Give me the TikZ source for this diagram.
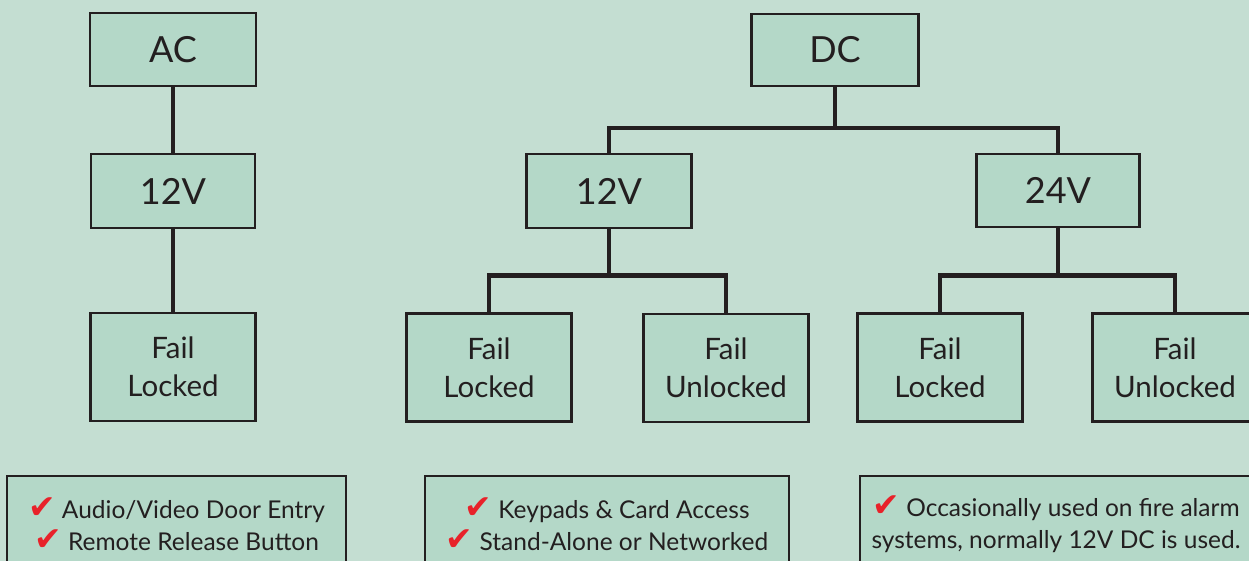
\documentclass[tikz,border=0pt]{standalone}
\usepackage{fontspec}
\setmainfont{Lato}
\newfontfamily\djv{DejaVu Sans}
\definecolor{bgc}{HTML}{C4DED2}
\definecolor{boxc}{HTML}{B4D8C8}
\definecolor{inkc}{HTML}{231F20}
\definecolor{tickc}{HTML}{E8222A}
\newcommand{\tick}{{\color{tickc}\djv\fontsize{33}{32}\selectfont\char"2714}}
\tikzset{
  box/.style={draw=inkc, fill=boxc, line width=2.5pt, text=inkc, inner sep=0pt, align=center},
  topbox/.style={box, font=\fontsize{36}{40}\selectfont},
  failbox/.style={box, minimum width=165pt, minimum height=108pt, font=\fontsize{29.5}{38}\selectfont},
  notebox/.style={draw=inkc, fill=boxc, line width=2.5pt, inner sep=0pt},
  notetext/.style={text=inkc, align=center, inner sep=0pt, font=\fontsize{24.5}{32}\selectfont},
  link/.style={draw=inkc, line width=4.5pt, line cap=rect}
}
\begin{document}
\begin{tikzpicture}[x=1pt, y=-1pt]
\useasboundingbox (0,0) rectangle (1249,561);
\clip (0,0) rectangle (1249,561);
\fill[bgc] (0,0) rectangle (1249,561);

% AC column
\node[topbox, minimum width=166pt, minimum height=73pt] (ac) at (173,49.5) {AC};
\node[topbox, minimum width=164pt, minimum height=74pt] (ac12) at (173,191) {12V};
\node[failbox] (acfl) at (173,367) {Fail\\Locked};

% DC tree
\node[topbox, minimum width=167pt, minimum height=72pt] (dc) at (835,50) {DC};
\node[topbox, minimum width=165pt, minimum height=74pt] (dc12) at (609,191) {12V};
\node[topbox, minimum width=163pt, minimum height=73pt] (dc24) at (1058,190.5) {24V};
\node[failbox] (fl1) at (489,367.5) {Fail\\Locked};
\node[failbox] (fu1) at (726,368) {Fail\\Unlocked};
\node[failbox] (fl2) at (940,367.5) {Fail\\Locked};
\node[failbox] (fu2) at (1175,367.5) {Fail\\Unlocked};

% connectors
\draw[link] (ac.south) -- (ac12.north);
\draw[link] (ac12.south) -- (acfl.north);
\draw[link] (dc.south) -- ++(0,41) -| (dc12.north);
\draw[link] (dc.south) -- ++(0,41) -| (dc24.north);
\draw[link] (dc12.south) -- ++(0,46) -| (fl1.north);
\draw[link] (dc12.south) -- ++(0,46) -| (fu1.north);
\draw[link] (dc24.south) -- ++(0,47) -| (fl2.north);
\draw[link] (dc24.south) -- ++(0,47) -| (fu2.north);

% notes
\node[notebox, minimum width=339pt, minimum height=130pt] (n1) at (176.5,541) {};
\node[notebox, minimum width=364pt, minimum height=130pt] (n2) at (607,541) {};
\node[notebox, minimum width=400pt, minimum height=130pt] (n3) at (1060,541) {};
\node[notetext] (t1) at (176.5,524) {\tick\ Audio/Video Door Entry\\\tick\ Remote Release Button};
\node[notetext] (t2) at (607,524) {\tick\ Keypads \& Card Access\\\tick\ Stand-Alone or Networked};
\node[notetext] (t3) at (1056,524) {\tick\ Occasionally used on fire alarm\\systems, normally 12V DC is used.};
\end{tikzpicture}
\end{document}
